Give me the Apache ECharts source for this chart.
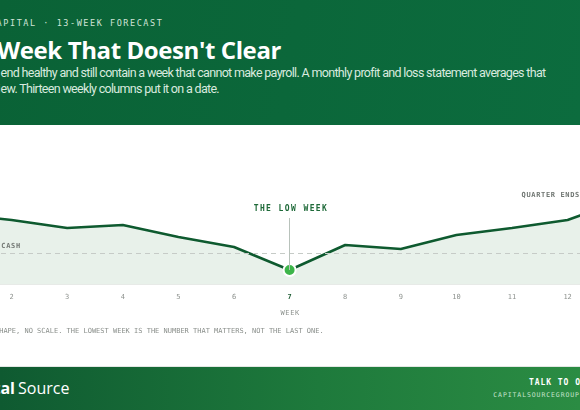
<!DOCTYPE html>
<html><head><meta charset="utf-8">
<script src="https://cdn.jsdelivr.net/npm/echarts@6/dist/echarts.min.js"></script>
<style>
html,body{margin:0;padding:0;width:580px;height:410px;overflow:hidden;background:#fff;}
body{position:relative;}
.abs{position:absolute;white-space:nowrap;}
.pre{position:absolute;right:100%;top:0;white-space:nowrap;}
.mono{font-family:"DejaVu Sans Mono",monospace;}
.sans{font-family:"Open Sans","Noto Sans",sans-serif;}
.sub{font-family:Roboto,"Open Sans",sans-serif;}
#header{left:0;top:0;width:580px;height:125px;background:linear-gradient(100deg,#0a6236,#0c6c3e);}
#footer{left:0;top:366px;width:580px;height:44px;background:linear-gradient(90deg,#0f5a31,#1e7a3c 55%,#2b8c43);border-top:1px solid #e3e7e4;box-sizing:border-box;}
#chart{position:absolute;left:-100px;top:125px;width:780px;height:241px;}
.ov{position:absolute;white-space:nowrap;font-family:"DejaVu Sans Mono",monospace;line-height:1;}
</style></head>
<body>
<div id="header" class="abs"></div>
<div class="abs mono" style="left:3.3px;top:18.8px;font-size:8.5px;line-height:8.5px;letter-spacing:1.55px;color:#cfe3d6;"><span class="pre">CA</span>PITAL · 13-WEEK FORECAST</div>
<div class="abs sans" style="left:-3px;top:37.7px;font-size:24px;line-height:24px;font-weight:700;color:#fff;"><span class="pre">The&nbsp;</span><span class="vis" data-w="284">Week That Doesn't Clear</span></div>
<div class="abs sub" style="left:0.5px;top:65.4px;font-size:12.5px;line-height:16px;color:#d9eadf;"><span class="pre">A quarter can start and&nbsp;</span><span class="vis" data-w="544.5">end healthy and still contain a week that cannot make payroll. A monthly profit and loss statement averages that</span></div>
<div class="abs sub" style="left:0.5px;top:81.4px;font-size:12.5px;line-height:16px;color:#d9eadf;"><span class="pre">week out of vi</span><span class="vis" data-w="218.5">ew. Thirteen weekly columns put it on a date.</span></div>

<div id="chart"></div>

<div class="abs mono" style="left:3.4px;top:328.1px;font-size:7px;line-height:7px;color:#8a8f8b;"><span class="pre">ILLUSTRATIVE SH</span>APE, NO SCALE. THE LOWEST WEEK IS THE NUMBER THAT MATTERS, NOT THE LAST ONE.</div>

<div id="footer" class="abs"></div>
<div class="abs sans" style="left:18px;top:378px;font-size:16px;line-height:20px;color:#fff;"><span class="pre" style="font-weight:700;padding-right:3px;">Capital</span>Source</div>
<div class="abs mono" style="left:529px;top:379px;font-size:8px;line-height:8px;letter-spacing:0.95px;font-weight:700;color:#fff;">TALK TO OUR TEAM</div>
<div class="abs mono" style="left:493.3px;top:392px;font-size:6.5px;line-height:6.5px;letter-spacing:0.9px;color:#c4e2cc;">CAPITALSOURCEGROUP.COM</div>

<script>
// ---- data ----
const weeks = ['1','2','3','4','5','6','7','8','9','10','11','12','13'];
const cashValues = [70, 64, 56, 59, 47, 37, 14, 39, 35, 49, 56, 64, 84];
const minCash = 31;
const lowWeek = '7';
const lowLabel = 'THE LOW WEEK';
const floorLabel = 'MINIMUM CASH';
const endLabel = 'QUARTER ENDS HIGHER';
const axisName = 'WEEK';

// fit header text runs to measured widths
document.querySelectorAll('.vis').forEach(el => {
  const target = parseFloat(el.dataset.w);
  const n = el.textContent.length;
  const w = el.getBoundingClientRect().width;
  el.style.letterSpacing = ((target - w) / n) + 'px';
});

const lowIdx = cashValues.indexOf(Math.min.apply(null, cashValues));
const leaderTop = 66;
const MONO = '"DejaVu Sans Mono", monospace';

const chartEl = document.getElementById('chart');
const chart = echarts.init(chartEl, null, {renderer: 'canvas'});
chart.setOption({
  animation: false,
  grid: {left: 56, right: 56.8, top: 15, bottom: 82},
  xAxis: {
    type: 'category', data: weeks, boundaryGap: false,
    axisLine: {lineStyle: {color: '#dfe4e0', width: 1.5}},
    axisTick: {show: false},
    splitLine: {show: false},
    axisLabel: {
      interval: 0, margin: 10, fontFamily: MONO, fontSize: 7, color: '#8d928e',
      formatter: v => v === lowWeek ? '{b|' + v + '}' : v,
      rich: {b: {fontFamily: MONO, fontSize: 7, fontWeight: 'bold', color: '#1f5e35'}}
    }
  },
  yAxis: {type: 'value', min: 0, max: 144, show: false, splitLine: {show: false}},
  series: [{
    type: 'line',
    data: cashValues.map((v, i) => i === lowIdx ? {
      value: v, symbol: 'circle', symbolSize: 12,
      itemStyle: {color: '#3db54a', borderColor: '#ffffff', borderWidth: 2}
    } : v),
    symbol: 'none', showSymbol: true,
    lineStyle: {color: '#0e5a2f', width: 2.5},
    areaStyle: {color: '#e8f1ea', opacity: 1},
    z: 3,
    markLine: {
      silent: true, symbol: 'none', label: {show: false},
      data: [
        {yAxis: minCash, lineStyle: {color: '#c6cbc7', type: [5, 4], width: 1}},
        [{coord: [lowWeek, leaderTop], lineStyle: {color: '#b8c2bb', type: 'solid', width: 1}},
         {coord: [lowWeek, cashValues[lowIdx]]}]
      ]
    }
  }]
});

// ---- annotation overlays anchored to data coordinates ----
const offX = chartEl.offsetLeft, offY = chartEl.offsetTop;
function px(idx, val) {
  const p = chart.convertToPixel({seriesIndex: 0}, [idx, val]);
  return [p[0] + offX, p[1] + offY];
}
function addLabel(text, x, y, style, align) {
  const d = document.createElement('div');
  d.className = 'ov';
  d.textContent = text;
  Object.assign(d.style, style);
  d.style.left = x + 'px';
  d.style.top = y + 'px';
  d.style.transform = align === 'center' ? 'translate(-50%,-50%)' : 'translate(0,-50%)';
  document.body.appendChild(d);
}
const pLow = px(lowIdx, cashValues[lowIdx]);
const pTop = px(lowIdx, leaderTop);
addLabel(lowLabel, pLow[0] + 0.7, pTop[1] - 8.7,
  {fontSize: '8px', fontWeight: 'bold', letterSpacing: '1.4px', paddingLeft: '1.4px', color: '#1f6a39'}, 'center');
const pStart = px(0, minCash);
addLabel(floorLabel, pStart[0] + 5.9, pStart[1] - 7,
  {fontSize: '7px', fontWeight: 'bold', letterSpacing: '0.7px', color: '#737874'}, 'left');
const pEnd = px(weeks.length - 2, cashValues[weeks.length - 2]);
addLabel(endLabel, pEnd[0] - 46, pEnd[1] - 25.5,
  {fontSize: '7px', fontWeight: 'bold', letterSpacing: '0.65px', color: '#6f7571'}, 'left');
const pBase = px(lowIdx, 0);
addLabel(axisName, pBase[0] + 0.3, pBase[1] + 29.2,
  {fontSize: '7px', letterSpacing: '0.6px', paddingLeft: '0.6px', color: '#8d928e'}, 'center');
</script>
</body></html>
